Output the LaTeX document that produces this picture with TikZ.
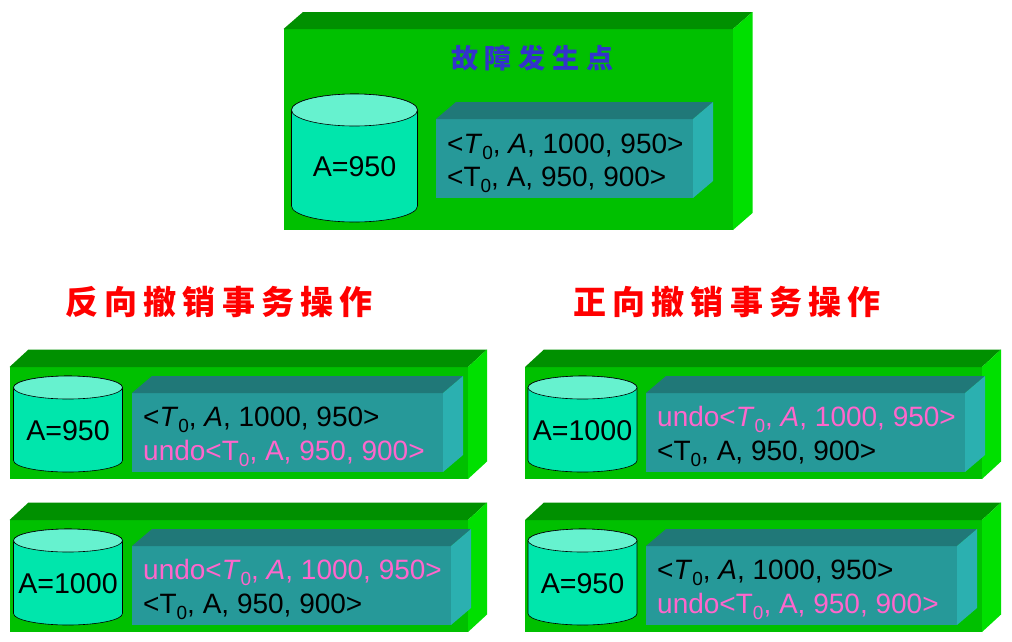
\documentclass[tikz,border=0pt]{standalone}
\usepackage{fontspec}
\setmainfont{Liberation Sans}
\newfontfamily\cjkblue[LetterSpace=25]{Noto Sans CJK SC}
\newfontfamily\cjkred[LetterSpace=19]{Noto Sans CJK SC}
\newlength{\du}
\setlength{\du}{1pt}
\definecolor{outerfront}{rgb}{0.000000, 0.753000, 0.000000}
\definecolor{outertop}{rgb}{0.000000, 0.565000, 0.000000}
\definecolor{outerside}{rgb}{0.000000, 0.878000, 0.000000}
\definecolor{innerfront}{rgb}{0.149000, 0.600000, 0.600000}
\definecolor{innertop}{rgb}{0.125000, 0.471000, 0.471000}
\definecolor{innerside}{rgb}{0.169000, 0.690000, 0.690000}
\definecolor{cylbody}{rgb}{0.000000, 0.902000, 0.675000}
\definecolor{cyltop}{rgb}{0.400000, 0.949000, 0.812000}
\definecolor{titleblue}{rgb}{0.200000, 0.200000, 0.800000}
\definecolor{undopink}{rgb}{1.000000, 0.400000, 0.800000}
\tikzset{
  logline/.style={anchor=base west, inner sep=0pt, font=\fontsize{28}{28}\selectfont},
  cyllabel/.style={inner sep=0pt, font=\fontsize{28.6}{28.6}\selectfont},
  undoline/.style={logline, text=undopink},
  redtitle/.style={inner sep=0pt, text=red, font=\fontsize{33}{33}\selectfont\cjkred\bfseries},
  bluetitle/.style={inner sep=0pt, text=titleblue, font=\fontsize{27}{27}\selectfont\cjkblue\bfseries}
}
\newcommand{\Tz}{T\raisebox{-0.22em}{\fontsize{19}{19}\selectfont 0}}
\newcommand{\Tzi}{\textit{T}\raisebox{-0.22em}{\fontsize{19}{19}\selectfont 0}}
% left, top of front, right, bottom of front, depth x, depth y, front, top, side
\newcommand{\slab}[9]{
\fill[#7] (#1\du,#2\du)--(#1\du,#4\du)--(#3\du,#4\du)--(#3\du,#2\du)--cycle;
\fill[#8] (#1\du,#2\du)--({(#1+#5)*\du},{(#2-#6)*\du})--({(#3+#5)*\du},{(#2-#6)*\du})--(#3\du,#2\du)--cycle;
\fill[#9] (#3\du,#2\du)--({(#3+#5)*\du},{(#2-#6)*\du})--({(#3+#5)*\du},{(#4-#6)*\du})--(#3\du,#4\du)--cycle;
}
% left, right, top, bottom, half height of ellipse
\newcommand{\drum}[5]{
\draw[fill=cylbody, line width=0.6\du] (#1\du,{(#3+#5)*\du}) arc[start angle=180, end angle=360, x radius={(#2-#1)/2*\du}, y radius=#5\du]
  --(#2\du,{(#4-#5)*\du}) arc[start angle=0, end angle=180, x radius={(#2-#1)/2*\du}, y radius=#5\du]--cycle;
\draw[fill=cyltop, line width=0.6\du] ({(#1+#2)/2*\du},{(#3+#5)*\du}) ellipse[x radius={(#2-#1)/2*\du}, y radius=#5\du];
}
\begin{document}
\begin{tikzpicture}[yscale=-1]
\useasboundingbox (0\du,0\du) rectangle (1012\du,641\du);
% top block
\slab{283.5}{29}{733}{230}{19.5}{17}{outerfront}{outertop}{outerside}
\slab{436}{119}{693}{198}{20}{17}{innerfront}{innertop}{innerside}
\drum{291.5}{417.5}{94}{222}{16}
\node[bluetitle] (faultpoint) at (532\du,58\du){故障发生点};
\node[cyllabel] (faultvalue) at (354.5\du,167\du){A=950};
\node[logline] (faultlogone) at (447\du,153\du){<\Tzi, \textit{A}, 1000, 950>};
\node[logline] (faultlogtwo) at (447\du,186\du){<\Tz, A, 950, 900>};
% titles
\node[redtitle] (backtitle) at (219\du,302\du){反向撤销事务操作};
\node[redtitle] (forwardtitle) at (727\du,302\du){正向撤销事务操作};
% lower left
\slab{9.5}{367}{468}{479}{19}{17.5}{outerfront}{outertop}{outerside}
\slab{132}{393}{443}{472}{20}{17}{innerfront}{innertop}{innerside}
\drum{13.5}{122.5}{376}{472}{11.5}
\node[cyllabel] (backvalueone) at (68\du,431\du){A=950};
\node[logline] (backlogone) at (143\du,426\du){<\Tzi, \textit{A}, 1000, 950>};
\node[undoline] (backlogtwo) at (143\du,460\du){undo<\Tz, A, 950, 900>};
\slab{9.5}{520}{468}{632}{19}{17.5}{outerfront}{outertop}{outerside}
\slab{132}{546}{451}{625}{20}{17}{innerfront}{innertop}{innerside}
\drum{13.5}{122.5}{529}{625}{11.5}
\node[cyllabel] (backvaluetwo) at (68\du,584\du){A=1000};
\node[undoline] (backlogthree) at (143\du,579\du){undo<\Tzi, \textit{A}, 1000, 950>};
\node[logline] (backlogfour) at (143\du,613\du){<\Tz, A, 950, 900>};
% lower right
\slab{525}{367}{982}{479}{19}{17.5}{outerfront}{outertop}{outerside}
\slab{646}{393}{965}{472}{20}{17}{innerfront}{innertop}{innerside}
\drum{528}{637}{376}{472}{11.5}
\node[cyllabel] (forwardvalueone) at (582.5\du,431\du){A=1000};
\node[undoline] (forwardlogone) at (657\du,426\du){undo<\Tzi, \textit{A}, 1000, 950>};
\node[logline] (forwardlogtwo) at (657\du,460\du){<\Tz, A, 950, 900>};
\slab{525}{520}{982}{632}{19}{17.5}{outerfront}{outertop}{outerside}
\slab{646}{546}{957}{625}{20}{17}{innerfront}{innertop}{innerside}
\drum{528}{637}{529}{625}{11.5}
\node[cyllabel] (forwardvaluetwo) at (582.5\du,584\du){A=950};
\node[logline] (forwardlogthree) at (657\du,579\du){<\Tzi, \textit{A}, 1000, 950>};
\node[undoline] (forwardlogfour) at (657\du,613\du){undo<\Tz, A, 950, 900>};
\end{tikzpicture}
\end{document}
